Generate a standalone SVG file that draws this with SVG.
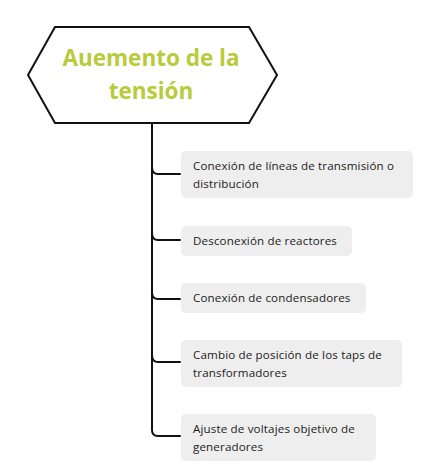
<svg xmlns="http://www.w3.org/2000/svg" width="440" height="476" viewBox="0 0 440 476">
<style>
.title{font-family:"Open Sans","Liberation Sans",sans-serif;font-weight:bold;font-size:22.5px;fill:#b8cb3a;text-anchor:middle}
.box{fill:#eeeeee}
.lbl{font-family:"Open Sans","Liberation Sans",sans-serif;font-size:11.6px;letter-spacing:0.15px;fill:#222222}
.conn{fill:none;stroke:#111111;stroke-width:2;stroke-linecap:round;stroke-linejoin:round}
</style>
<rect width="440" height="476" fill="#ffffff"/>
<g id="connectors">
<path class="conn" d="M152,124 V430 Q152,436 158,436 H180"/>
<path class="conn" d="M152,167 Q152,174 158,174 H180"/>
<path class="conn" d="M152,233 Q152,240 158,240 H180"/>
<path class="conn" d="M152,292 Q152,299 158,299 H180"/>
<path class="conn" d="M152,355 Q152,362 158,362 H180"/>
</g>
<g id="root">
<polygon points="28,75 55,27 249,27 277,75 249,123 55,123" fill="#ffffff" stroke="#111111" stroke-width="2"/>
<text class="title" x="151" y="66">Auemento de la</text>
<text class="title" x="151" y="99">tensión</text>
</g>
<g id="n1">
<rect class="box" x="181" y="151" width="232" height="47" rx="5"/>
<text class="lbl" x="193" y="170">Conexión de líneas de transmisión o</text>
<text class="lbl" x="193" y="188">distribución</text>
</g>
<g id="n2">
<rect class="box" x="181" y="226" width="171" height="30" rx="5"/>
<text class="lbl" x="193" y="245">Desconexión de reactores</text>
</g>
<g id="n3">
<rect class="box" x="181" y="283" width="185" height="30" rx="5"/>
<text class="lbl" x="193" y="302">Conexión de condensadores</text>
</g>
<g id="n4">
<rect class="box" x="181" y="340" width="221" height="47" rx="5"/>
<text class="lbl" x="193" y="359">Cambio de posición de los taps de</text>
<text class="lbl" x="193" y="377">transformadores</text>
</g>
<g id="n5">
<rect class="box" x="181" y="414" width="195" height="47" rx="5"/>
<text class="lbl" x="193" y="433">Ajuste de voltajes objetivo de</text>
<text class="lbl" x="193" y="451">generadores</text>
</g>
</svg>
